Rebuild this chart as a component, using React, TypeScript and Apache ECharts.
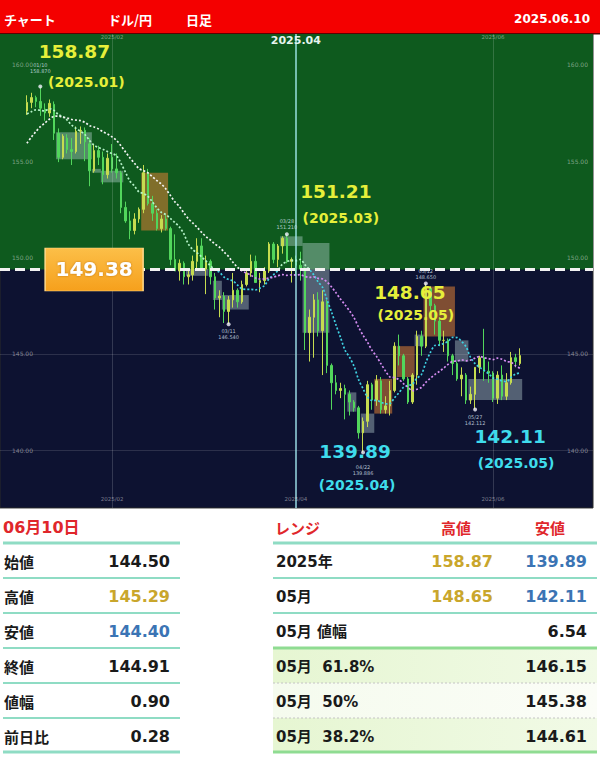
import React, { useEffect, useRef } from 'react';
import * as echarts from 'echarts';

// ---------- DATA ----------
const dates = [
  '01/07','01/08','01/09','01/10','01/13','01/14','01/15','01/16','01/17','01/20','01/21','01/22','01/23','01/24','01/27','01/28','01/29','01/30','01/31',
  '02/03','02/04','02/05','02/06','02/07','02/10','02/11','02/12','02/13','02/14','02/17','02/18','02/19','02/20','02/21','02/24','02/25','02/26','02/27','02/28',
  '03/03','03/04','03/05','03/06','03/07','03/10','03/11','03/12','03/13','03/14','03/17','03/18','03/19','03/20','03/21','03/24','03/25','03/26','03/27','03/28','03/31',
  '04/01','04/02','04/03','04/04','04/07','04/08','04/09','04/10','04/11','04/14','04/15','04/16','04/17','04/18','04/21','04/22','04/23','04/24','04/25','04/28','04/29','04/30',
  '05/01','05/02','05/05','05/06','05/07','05/08','05/09','05/12','05/13','05/14','05/15','05/16','05/19','05/20','05/21','05/22','05/23','05/26','05/27','05/28','05/29','05/30',
  '06/02','06/03','06/04','06/05','06/06','06/09','06/10',
];

// [open, high, low, close]
const ohlc = [
  [157.60,158.42,157.40,158.05],[158.05,158.55,157.75,158.30],[158.30,158.40,157.80,158.10],[158.10,158.87,157.35,157.75],
  [157.70,158.00,157.10,157.50],[157.50,158.20,157.30,158.00],[157.95,158.10,156.10,156.45],[156.45,156.70,154.95,155.20],[155.20,156.40,155.10,156.30],
  [156.20,156.40,155.40,155.60],[155.60,156.20,154.80,155.50],[155.50,156.80,155.40,156.55],[156.55,156.80,155.90,156.60],[156.60,156.75,155.00,156.00],
  [155.90,156.20,153.70,154.50],[154.50,155.90,154.40,155.55],[155.55,155.80,154.80,155.20],[155.20,155.50,153.80,154.30],[154.30,155.40,154.10,155.15],
  [155.20,155.89,154.40,154.60],[154.60,155.40,154.10,154.40],[154.40,154.50,152.30,152.60],[152.60,152.90,151.80,151.90],[151.90,152.40,150.95,151.40],
  [151.40,152.30,151.20,152.00],[152.00,152.60,151.80,152.50],[152.50,154.80,152.30,154.40],[154.40,154.60,152.70,152.80],[152.80,153.20,151.90,152.30],
  [152.30,152.50,151.40,151.50],[151.50,152.20,151.30,152.00],[152.00,152.20,151.40,151.50],[151.50,151.60,149.60,149.90],[149.90,151.20,149.30,149.30],
  [149.30,149.90,148.80,149.70],[149.70,149.80,148.60,149.00],[149.00,149.30,148.60,149.10],[149.10,150.10,148.80,149.80],[149.80,151.00,149.40,150.60],
  [150.60,151.00,149.40,149.40],[149.40,150.10,148.10,149.80],[149.80,149.90,148.60,149.00],[149.00,149.20,147.30,147.90],[147.90,148.30,146.90,148.00],
  [148.00,148.20,146.60,147.20],[147.20,148.00,146.54,147.80],[147.80,149.20,147.40,148.30],[148.30,148.40,147.40,147.70],[147.70,148.80,147.60,148.60],
  [148.60,149.30,148.50,149.20],[149.20,150.15,149.00,149.80],[149.80,150.10,148.70,148.70],[148.70,149.20,148.20,148.80],[148.80,149.50,148.60,149.30],
  [149.30,150.80,149.20,150.70],[150.70,150.80,149.70,149.90],[149.90,150.70,149.50,150.60],[150.60,151.10,150.20,151.00],[151.00,151.21,149.70,149.80],
  [149.80,150.00,148.70,149.90],
  [149.90,150.10,149.10,149.60],[149.60,150.30,148.80,149.40],[149.40,149.50,145.20,146.10],[146.10,147.30,144.60,146.90],
  [146.90,148.10,144.80,147.80],[147.80,148.20,145.90,146.20],[146.20,148.30,143.90,147.70],[147.70,147.80,144.00,144.40],[144.40,144.50,142.10,143.50],
  [143.50,143.90,142.90,143.10],[143.10,143.50,142.70,143.20],[143.20,143.40,141.60,142.90],[142.90,143.10,141.80,142.50],[142.50,142.60,142.00,142.20],
  [142.20,142.30,140.60,140.90],[140.90,141.70,139.886,141.50],[141.50,143.60,141.20,143.40],[143.40,143.50,142.10,142.60],[142.60,143.90,142.30,143.60],
  [143.60,143.80,141.90,142.10],[142.10,142.80,141.90,142.30],[142.30,143.60,141.80,143.10],
  [143.10,145.60,143.00,145.40],[145.40,146.00,144.40,144.90],
  [144.90,145.00,143.60,143.70],[143.70,143.80,142.40,142.50],[142.50,144.00,142.40,143.90],[143.90,146.20,143.40,145.90],[145.90,146.20,144.90,145.40],
  [145.40,148.65,145.30,148.40],[148.40,148.50,147.10,147.50],[147.50,147.60,146.00,146.70],[146.70,146.90,145.40,145.70],[145.70,146.20,145.10,145.70],
  [145.70,145.80,144.60,144.90],[144.90,145.00,143.90,144.50],[144.50,144.60,143.60,143.70],[143.70,144.30,142.80,143.90],[143.90,144.00,142.40,142.60],
  [142.60,143.30,142.40,142.90],[142.90,144.30,142.112,144.30],[144.30,144.90,144.00,144.80],[144.80,146.30,143.60,144.10],[144.10,144.60,143.50,144.00],
  [144.00,144.10,142.50,142.70],[142.70,144.10,142.40,143.90],[143.90,144.40,142.60,142.80],[142.80,144.00,142.60,143.50],[143.50,145.10,143.40,144.80],
  [144.80,145.00,144.30,144.60],[144.50,145.29,144.40,144.91],
];

// closes before 01/07 (12/09 .. 01/06) used only to start the moving averages
const warmupCloses = [151.2,151.9,152.4,152.6,153.7,154.1,153.5,154.9,157.4,156.4,157.1,157.2,157.1,158.0,157.8,156.9,157.2,157.4,157.3,157.6];

// range boxes: [firstIndex, lastIndex, low, high, up(1)/down(0)]
const boxes = [
  [7,14,155.1,156.5,0],[15,16,154.4,154.6,0],[17,21,153.9,154.5,0],[26,31,151.4,154.4,1],
  [36,40,149.05,149.4,0],[42,43,147.8,148.8,0],[44,49,147.3,148.05,0],[57,61,150.6,151.1,0],
  [62,67,146.1,150.75,0],[72,73,142.0,143.0,0],[75,77,140.9,141.9,0],[78,81,141.9,143.7,1],
  [83,86,143.8,145.4,1],[87,88,145.4,146.0,0],[89,95,145.9,148.5,1],[96,98,144.6,145.7,0],
  [99,110,142.6,143.7,0],
];

const LEVEL = 149.38; // 2025 half range line
const extremes = [
  { date: '01/10', kind: 'high', period: '2025.01' },
  { date: '03/11', kind: 'low', period: '' },
  { date: '03/28', kind: 'high', period: '2025.03' },
  { date: '04/22', kind: 'low', period: '2025.04' },
  { date: '05/12', kind: 'high', period: '2025.05' },
  { date: '05/27', kind: 'low', period: '2025.05' },
];

const headerTexts = ['チャート', 'ドル/円', '日足'];
const headerDate = '2025.06.10';

const dayTitle = '06月10日';
const dayLabels = ['始値', '高値', '安値', '終値', '値幅', '前日比'];
const dayValues = ['144.50', '145.29', '144.40', '144.91', '0.90', '0.28'];

const rangeTitles = ['レンジ', '高値', '安値'];
const rangeLabels = ['2025年', '05月', '05月 値幅', '05月  61.8%', '05月  50%', '05月  38.2%'];
const rangeHigh = ['158.87', '148.65', '', '', '', ''];
const rangeLow = ['139.89', '142.11', '6.54', '146.15', '145.38', '144.61'];

// ---------- LAYOUT / STYLE ----------
const LATIN = '"DejaVu Sans", "Noto Sans CJK JP", sans-serif';
const CJK = '"Noto Sans CJK JP", "DejaVu Sans", sans-serif';
const GREEN_BG = '#0e5a1e';
const NAVY_BG = '#0d1231';
const YELLOW = '#e6ef3a';
const CYAN = '#3fdcec';
const RED = '#e0262b';
const GOLD = '#c9a62c';
const BLUE = '#3b74b4';
const INK = '#1a1a1a';
const X_MIN = -6;
const X_MAX = 126.3;
const Y_MIN = 137;
const Y_MAX = 161.6;
const BOX_X = 15; // x anchor of the level badge

// [big value offset], [period offset]
const noteOffsets: Record<string, number[][]> = {
  '01/10': [[34, -35], [46, -4]],
  '03/28': [[49, -42], [54, -16]],
  '04/22': [[-8, 0], [-6, 33]],
  '05/12': [[-16, 9], [-10, 32]],
  '05/27': [[35, 28], [41, 54]],
};
const tinyDistance: Record<string, number> = { '04/22': 10, '01/10': 11 };

function movingAverage(period: number) {
  const all = warmupCloses.concat(ohlc.map((r) => r[3]));
  const off = warmupCloses.length;
  return ohlc.map((_, i) => {
    let s = 0;
    for (let k = 0; k < period; k++) s += all[off + i - k];
    return [i, +(s / period).toFixed(3)];
  });
}

const monthIdx: number[] = [];
dates.forEach((d, i) => {
  if (i > 0 && d.slice(0, 2) !== dates[i - 1].slice(0, 2) && parseInt(d.slice(0, 2), 10) % 2 === 0) monthIdx.push(i);
});

function buildGraphics() {
  const g: any[] = [];
  const txt = (x: number, y: number, text: string, o: any) => ({
    type: 'text', x, y, silent: true,
    style: { text, fill: o.fill || INK, fontSize: o.fontSize || 15, fontWeight: o.fontWeight || 'bold', fontFamily: o.fontFamily || LATIN, align: o.align || 'left', verticalAlign: 'middle' },
  });
  const hline = (x1: number, x2: number, y: number, stroke: string, lw: number, dash?: number[]) => ({
    type: 'line', silent: true, shape: { x1, y1: y, x2, y2: y }, style: { stroke, lineWidth: lw, lineDash: dash },
  });
  // header
  g.push({ type: 'rect', silent: true, shape: { x: 0, y: 0, width: 600, height: 33 }, style: { fill: '#f40000' } });
  g.push({ type: 'rect', silent: true, shape: { x: 0, y: 33, width: 600, height: 1.5 }, style: { fill: '#5a0000' } });
  const hx = [4, 108, 186];
  headerTexts.forEach((t, i) => g.push(txt(hx[i], 19, t, { fill: '#ffffff', fontSize: 13, fontFamily: CJK })));
  g.push(txt(590, 19, headerDate, { fill: '#ffffff', fontSize: 12, align: 'right' }));

  const lineY = [543, 578, 613, 648, 683, 718, 752];
  const rowY = lineY.slice(0, 6).map((y) => y + 18.5);
  const MINT = '#8fdcc4';

  // left table
  g.push(txt(3, 527, dayTitle, { fill: RED, fontSize: 16 }));
  lineY.forEach((y, i) => g.push(hline(3, 180, y, MINT, i === 0 || i === 6 ? 3 : 2)));
  dayLabels.forEach((l, i) => {
    g.push(txt(4, rowY[i], l, { fontSize: 15, fontFamily: CJK }));
    const c = l === '高値' ? GOLD : l === '安値' ? BLUE : INK;
    g.push(txt(170, rowY[i], dayValues[i], { fill: c, fontSize: 16, align: 'right' }));
  });

  // right table
  const bgs = ['#e6f6d2', '#f5fbee', '#e6f6d2'];
  [3, 4, 5].forEach((r, k) => {
    g.push({
      type: 'rect', silent: true,
      shape: { x: 273, y: lineY[r], width: 324, height: lineY[r + 1] - lineY[r] },
      style: { fill: new echarts.graphic.LinearGradient(0, 0, 1, 0, [{ offset: 0, color: bgs[k] }, { offset: 1, color: k === 1 ? '#fbfdf7' : '#f1fae6' }]) },
    });
  });
  g.push(txt(275, 527, rangeTitles[0], { fill: RED, fontSize: 15, fontFamily: CJK }));
  g.push(txt(456, 527, rangeTitles[1], { fill: RED, fontSize: 15, fontFamily: CJK, align: 'center' }));
  g.push(txt(550, 527, rangeTitles[2], { fill: RED, fontSize: 15, fontFamily: CJK, align: 'center' }));
  lineY.forEach((y, i) => {
    if (i === 4 || i === 5) g.push(hline(273, 597, y, '#c4c4c4', 1, [2, 2]));
    else if (i === 3 || i === 6) g.push(hline(273, 597, y, '#8fdc92', 3));
    else g.push(hline(273, 597, y, MINT, i === 0 ? 3 : 2));
  });
  rangeLabels.forEach((l, i) => {
    g.push(txt(276, rowY[i], l, { fontSize: 15 }));
    if (rangeHigh[i]) g.push(txt(493, rowY[i], rangeHigh[i], { fill: GOLD, fontSize: 16, align: 'right' }));
    const lowColor = i < 2 ? BLUE : INK;
    g.push(txt(587, rowY[i], rangeLow[i], { fill: lowColor, fontSize: 16, align: 'right' }));
  });
  return g;
}

function buildOption() {
  const ma10 = movingAverage(10);
  const ma20 = movingAverage(20);
  const candleData = ohlc.map((r, i) => [i, r[0], r[3], r[2], r[1]]);

  const pts = extremes.map((e) => {
    const idx = dates.indexOf(e.date);
    const v = e.kind === 'high' ? ohlc[idx][1] : ohlc[idx][2];
    return { ...e, idx, v };
  });

  const hidden = { symbolSize: 1, itemStyle: { color: 'rgba(0,0,0,0)' } };
  const markPoints: any[] = [];
  pts.forEach((p) => {
    const off = noteOffsets[p.date];
    if (!off || !p.period) return;
    const color = p.kind === 'high' ? YELLOW : CYAN;
    markPoints.push({
      coord: [p.idx, p.v], ...hidden,
      label: { show: true, position: 'inside', offset: off[0], formatter: p.v.toFixed(2), color, fontSize: 18.5, fontWeight: 'bold', fontFamily: LATIN },
    });
    markPoints.push({
      coord: [p.idx, p.v], ...hidden,
      label: { show: true, position: 'inside', offset: off[1], formatter: '(' + p.period + ')', color, fontSize: 14, fontWeight: 'bold', fontFamily: LATIN },
    });
  });
  // month labels (bottom edge and top edge of the plot)
  monthIdx.forEach((i) => {
    const m = dates[i].slice(0, 2);
    markPoints.push({
      coord: [i, Y_MIN], ...hidden,
      label: { show: true, position: 'inside', offset: [0, -8], formatter: '2025/' + m, color: 'rgba(255,255,255,0.45)', fontSize: 5.5, fontFamily: LATIN },
    });
    markPoints.push({
      coord: [i, Y_MAX], ...hidden,
      label: m === '04'
        ? { show: true, position: 'inside', offset: [0, 7], formatter: '2025.' + m, color: '#e6f4ee', fontSize: 11, fontWeight: 'bold', fontFamily: LATIN }
        : { show: true, position: 'inside', offset: [0, 4], formatter: '2025/' + m, color: 'rgba(255,255,255,0.45)', fontSize: 5.5, fontFamily: LATIN },
    });
  });
  markPoints.push({
    coord: [BOX_X, LEVEL], symbol: 'rect', symbolSize: [98, 43],
    itemStyle: {
      color: new echarts.graphic.LinearGradient(0, 0, 0, 1, [{ offset: 0, color: '#fcbf48' }, { offset: 1, color: '#f6a01c' }]),
      borderColor: '#ffd98a', borderWidth: 1,
    },
    label: {
      show: true, position: 'inside', formatter: LEVEL.toFixed(2), color: '#ffffff', fontSize: 20, fontWeight: 'bold', fontFamily: LATIN,
      textShadowColor: 'rgba(150,80,0,0.6)', textShadowBlur: 2,
    },
  });

  const markLines: any[] = [
    ...monthIdx.map((i) => ({
      xAxis: i,
      lineStyle: dates[i].slice(0, 2) === '04'
        ? { color: '#a6eef5', width: 1.5, type: 'solid', opacity: 0.9 }
        : { color: 'rgba(255,255,255,0.16)', width: 1, type: 'solid' },
    })),
    { yAxis: LEVEL, lineStyle: { color: '#f2f2f2', width: 3, type: [10, 5] } },
  ];

  const tinyAxis = { color: 'rgba(255,255,255,0.45)', fontSize: 6, fontFamily: LATIN };

  return {
    animation: false,
    backgroundColor: '#ffffff',
    grid: {
      left: 0, right: 7, top: 34, bottom: 253, show: true,
      backgroundColor: NAVY_BG, borderColor: '#2a2a2a', borderWidth: 1,
    },
    xAxis: {
      type: 'value', min: X_MIN, max: X_MAX,
      axisLine: { show: false }, axisTick: { show: false }, splitLine: { show: false }, axisLabel: { show: false },
    },
    yAxis: [
      {
        type: 'value', min: Y_MIN, max: Y_MAX, splitNumber: 5, position: 'left',
        axisLine: { show: false }, axisTick: { show: false },
        splitLine: { lineStyle: { color: 'rgba(255,255,255,0.13)', width: 1 } },
        axisLabel: { inside: true, margin: 12, showMinLabel: false, showMaxLabel: false, formatter: (v: number) => v.toFixed(2), ...tinyAxis },
      },
      {
        type: 'value', min: Y_MIN, max: Y_MAX, splitNumber: 5, position: 'right',
        axisLine: { show: false }, axisTick: { show: false }, splitLine: { show: false },
        axisLabel: { inside: true, margin: 5, showMinLabel: false, showMaxLabel: false, formatter: (v: number) => v.toFixed(2), ...tinyAxis },
      },
    ],
    visualMap: [
      {
        type: 'piecewise', show: false, seriesIndex: 3, dimension: 1,
        pieces: [{ gte: LEVEL, lte: 200, color: '#b4f2c8' }, { gte: 100, lt: LEVEL, color: '#3ed2e2' }],
      },
      {
        type: 'piecewise', show: false, seriesIndex: 4, dimension: 1,
        pieces: [{ gte: LEVEL, lte: 200, color: '#f4f4f4' }, { gte: 100, lt: LEVEL, color: '#d58cf2' }],
      },
    ],
    series: [
      {
        type: 'custom', name: 'zone', z: 0, silent: true, clip: true,
        data: [[0, LEVEL]], encode: { x: 0, y: 1 },
        renderItem: (params: any, api: any) => {
          const top = api.coord([0, Y_MAX]);
          const yl = api.coord([0, api.value(1)]);
          const l = api.coord([X_MIN, Y_MAX]);
          const r = api.coord([X_MAX, Y_MAX]);
          return { type: 'rect', shape: { x: l[0], y: top[1], width: r[0] - l[0], height: yl[1] - top[1] }, style: { fill: GREEN_BG } };
        },
      },
      {
        type: 'custom', name: 'boxes', z: 1, silent: true, clip: true,
        data: boxes, encode: { x: [0, 1], y: [2, 3] },
        renderItem: (params: any, api: any) => {
          const a = api.coord([api.value(0) - 0.5, api.value(3)]);
          const b = api.coord([api.value(1) + 0.5, api.value(2)]);
          return {
            type: 'rect',
            shape: { x: a[0], y: a[1], width: b[0] - a[0], height: b[1] - a[1] },
            style: { fill: api.value(4) ? 'rgba(222,128,52,0.55)' : 'rgba(190,215,215,0.40)' },
          };
        },
      },
      {
        type: 'candlestick', name: 'USD/JPY', z: 2, barWidth: 2,
        data: candleData,
        itemStyle: { color: '#c6dc50', color0: '#52d65c', borderColor: '#c6dc50', borderColor0: '#52d65c', borderWidth: 1 },
      },
      {
        type: 'line', name: 'MA10', z: 3, data: ma10, showSymbol: false, smooth: 0.3,
        lineStyle: { width: 1.7, type: [2, 2] },
      },
      {
        type: 'line', name: 'MA20', z: 3, data: ma20, showSymbol: false, smooth: 0.3,
        lineStyle: { width: 1.7, type: [2, 2] },
      },
      {
        type: 'scatter', name: 'extremes', z: 5, symbolSize: 4,
        itemStyle: { color: '#f4f4ff' },
        data: pts.map((p) => ({
          value: [p.idx, p.v], name: p.date,
          label: { position: p.kind === 'high' ? 'top' : 'bottom', distance: tinyDistance[p.date] || 2 },
        })),
        label: {
          show: true, distance: 2, fontSize: 5, lineHeight: 6, color: '#dfe6f4', fontFamily: LATIN,
          formatter: (p: any) => p.name + '\n' + p.value[1].toFixed(3),
        },
        markLine: { silent: true, symbol: ['none', 'none'], label: { show: false }, data: markLines },
        markPoint: { silent: true, data: markPoints },
      },
    ],
    graphic: buildGraphics(),
  };
}

export default function App() {
  const ref = useRef<HTMLDivElement>(null);
  useEffect(() => {
    document.body.style.margin = '0';
    const chart = echarts.init(ref.current as HTMLDivElement, null, { renderer: 'svg' });
    chart.setOption(buildOption() as any);
    return () => chart.dispose();
  }, []);
  return <div ref={ref} style={{ width: 600, height: 761 }} />;
}
